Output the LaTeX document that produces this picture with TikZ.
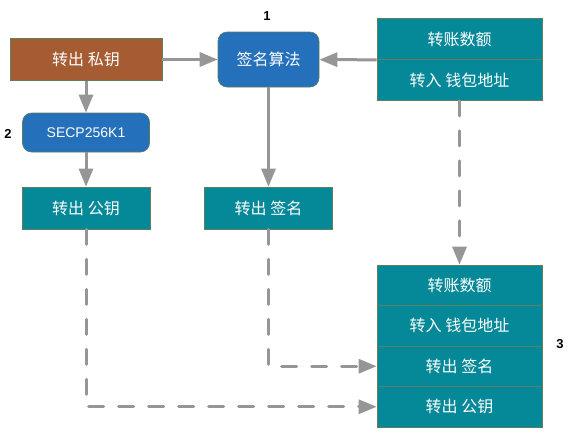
\documentclass[tikz,border=0pt]{standalone}
\usepackage{fontspec}
\setmainfont{Liberation Sans}
\newfontfamily\cjk{Noto Sans CJK SC}
\usetikzlibrary{arrows.meta,positioning,calc}
\definecolor{keybrown}{RGB}{165,92,51}
\definecolor{algoblue}{RGB}{36,112,186}
\definecolor{fieldteal}{RGB}{5,137,153}
\definecolor{edgegray}{RGB}{150,150,150}
\definecolor{rimgreen}{RGB}{95,125,95}
\tikzset{x=1pt, y=-1pt, % One unit is one pixel of the layout, y runs down
        every node/.style={ % Sets the properties for each box
            draw=rimgreen,
            line width=0.6pt,
            inner sep=0pt,
            text=white,
            font=\cjk\fontsize{16}{18}\selectfont},
        keybox/.style={fill=keybrown, minimum width=152pt, minimum height=42pt},
        algobox/.style={fill=algoblue, rounded corners=9pt},
        fieldbox/.style={fill=fieldteal, minimum width=165pt, minimum height=41pt},
        outbox/.style={fill=fieldteal, minimum width=128pt, minimum height=42pt},
        tag/.style={draw=none, text=black, font=\bfseries\fontsize{13}{15}\selectfont},
        conn/.style={ % Grey connectors with wide triangle heads
            draw=edgegray,
            line width=3pt,
            -{Triangle[length=18pt,width=14pt]}},
        every edge/.style={conn},
        link/.style={dash pattern=on 15pt off 15pt, line cap=round} % Dashed transfer lines
        }

\begin{document}
\begin{tikzpicture}
    \useasboundingbox (0,0) rectangle (570,432);

    \node[keybox] (privkey) at (86,59.5) {转出 私钥};
    \node[algobox, minimum width=101pt, minimum height=55pt] (algo) at (268.5,59.5) {签名算法};
    \node[algobox, minimum width=127pt, minimum height=39pt,
          font=\normalfont\fontsize{14}{16}\selectfont] (secp) at (86,132.5) {SECP256K1};
    \node[fieldbox] (amount) at (459.5,39) {转账数额};
    \node[fieldbox] (addr) at (459.5,80) {转入 钱包地址};
    \node[outbox] (pubkey) at (86,208) {转出 公钥};
    \node[outbox] (sig) at (268.5,208) {转出 签名};

    \node[fieldbox, minimum height=40.5pt] (txamount) at (459.5,285.25) {转账数额};
    \node[fieldbox, minimum height=40.5pt] (txaddr) at (459.5,325.75) {转入 钱包地址};
    \node[fieldbox, minimum height=40.5pt] (txsig) at (459.5,366.25) {转出 签名};
    \node[fieldbox, minimum height=40.5pt] (txpub) at (459.5,406.75) {转出 公钥};

    \node[tag] (one) at (267,16) {1};
    \node[tag] (two) at (8,134) {2};
    \node[tag] (three) at (560,344) {3};

    \draw (privkey) edge (algo);
    \draw (amount.south west) edge (algo);
    \draw (privkey) edge (secp);
    \draw (secp) edge (pubkey);
    \draw (algo) edge (sig);

    \draw (addr) edge[link] (txamount);
    \draw[conn, link] (sig.south) |- (txsig.west);
    \draw[conn, link] (pubkey.south) |- (txpub.west);
\end{tikzpicture}
\end{document}
